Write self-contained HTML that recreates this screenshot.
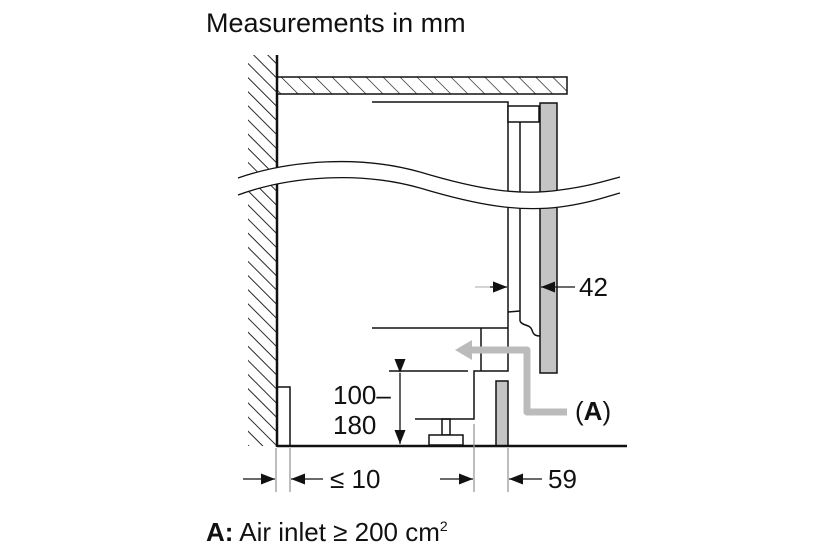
<!DOCTYPE html>
<html><head><meta charset="utf-8"><style>
body{margin:0;background:#fff;width:833px;height:555px;overflow:hidden}
svg{display:block}
text{font-family:"Liberation Sans",sans-serif;fill:#111}
</style></head><body>
<svg width="833" height="555" viewBox="0 0 833 555">
<defs>
<pattern id="h" width="10" height="10" patternUnits="userSpaceOnUse" patternTransform="rotate(-45)">
<line x1="0" y1="0" x2="0" y2="10" stroke="#111" stroke-width="1.8"/>
</pattern>
<pattern id="h2" width="12" height="12" patternUnits="userSpaceOnUse" patternTransform="rotate(-45)">
<line x1="0" y1="0" x2="0" y2="12" stroke="#111" stroke-width="1.3"/>
</pattern>
<marker id="ar" markerWidth="14" markerHeight="11" refX="14" refY="5.5" orient="auto" markerUnits="userSpaceOnUse">
<path d="M0,0 L14,5.5 L0,11 z" fill="#111"/></marker>
</defs>
<text x="206" y="32" font-size="27">Measurements in mm</text>
<!-- wall -->
<rect x="248" y="55" width="29" height="391" fill="url(#h)"/>
<rect x="236" y="55" width="12" height="395" fill="#fff"/>
<line x1="277" y1="55" x2="277" y2="447" stroke="#111" stroke-width="2.5"/>
<!-- shelf -->
<rect x="277" y="77" width="290" height="17" fill="url(#h2)" stroke="#111" stroke-width="1.5"/>
<g stroke="#111" stroke-width="1.5" fill="none">
<polyline points="372,102 508,102 508,371 474,371 474,419 415,419"/>
<line x1="520" y1="122" x2="520" y2="321"/>
<rect x="508" y="106" width="31" height="16" fill="#fff"/>
<line x1="508" y1="312" x2="520" y2="311"/>
<path d="M520,321 C522,326 530,324 532,330 C533,334 535,336 540,336"/>
<line x1="372" y1="328" x2="508" y2="328"/>
<line x1="481" y1="328" x2="481" y2="371"/>
<line x1="389" y1="371" x2="468" y2="371"/>
<rect x="277" y="387" width="13" height="59"/>
<rect x="442" y="419" width="8" height="16"/>
<rect x="429" y="435" width="34" height="10" fill="#fff"/>
</g>
<rect x="540" y="103" width="17" height="270" fill="#c4c4c4" stroke="#111" stroke-width="1.5"/>
<rect x="496" y="381" width="12" height="65" fill="#c4c4c4" stroke="#111" stroke-width="1.5"/>
<!-- wave -->
<path d="M238,178 C290,160 360,155 420,172 C480,190 520,196 560,190 C590,186 605,181 620,177 L620,193 C605,197 590,203 560,207 C520,212 480,206 420,188 C360,171 290,176 238,195 Z" fill="#fff"/>
<path d="M238,178 C290,160 360,155 420,172 C480,190 520,196 560,190 C590,186 605,181 620,177 M620,193 C605,197 590,203 560,207 C520,212 480,206 420,188 C360,171 290,176 238,195" fill="none" stroke="#111" stroke-width="1.3"/>
<!-- floor -->
<line x1="277" y1="446" x2="627" y2="446" stroke="#111" stroke-width="2.5"/>
<!-- air arrow -->
<polyline points="567,412 527,412 527,350 470,350" fill="none" stroke="#bbb" stroke-width="7" stroke-linejoin="round"/>
<path d="M455,350 L472,340 L472,360 z" fill="#bbb"/>
<text x="575" y="420" font-size="26">(<tspan font-weight="bold">A</tspan>)</text>
<!-- dims -->
<g stroke="#111" stroke-width="1.3">
<line x1="400" y1="373" x2="400" y2="444" marker-start="url(#ar)" marker-end="url(#ar)"/>
<line x1="475" y1="287" x2="507" y2="287" stroke="#bbb" marker-end="url(#ar)"/>
<line x1="490" y1="287" x2="507" y2="287" marker-end="url(#ar)"/>
<line x1="575" y1="287" x2="541" y2="287" marker-end="url(#ar)"/>
<line x1="276" y1="448" x2="276" y2="492" stroke="#999"/>
<line x1="290" y1="448" x2="290" y2="492" stroke="#999"/>
<line x1="474" y1="424" x2="474" y2="492" stroke="#999"/>
<line x1="508" y1="448" x2="508" y2="492" stroke="#999"/>
<line x1="243" y1="479" x2="275" y2="479" marker-end="url(#ar)"/>
<line x1="323" y1="479" x2="291" y2="479" marker-end="url(#ar)"/>
<line x1="440" y1="479" x2="473" y2="479" marker-end="url(#ar)"/>
<line x1="542" y1="479" x2="509" y2="479" marker-end="url(#ar)"/>
</g>
<text x="579" y="296" font-size="26">42</text>
<text x="333" y="404" font-size="26">100–</text>
<text x="333" y="434" font-size="26">180</text>
<text x="330" y="488" font-size="26">≤ 10</text>
<text x="548" y="488" font-size="26">59</text>
<text x="206" y="541" font-size="26"><tspan font-weight="bold">A:</tspan> Air inlet ≥ 200 cm<tspan font-size="14" dy="-10">2</tspan></text>
</svg>
</body></html>
